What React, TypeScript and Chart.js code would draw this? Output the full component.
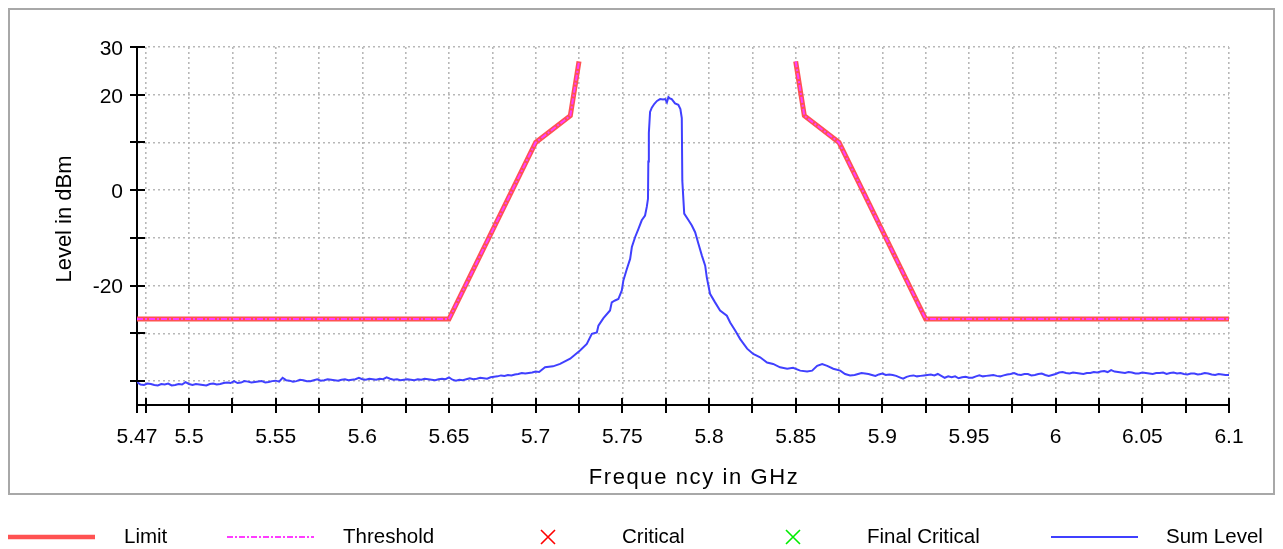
import { useEffect, useRef } from 'react';
import { Chart, registerables } from 'chart.js';

Chart.register(...registerables);

const FONT = "'Liberation Sans', Arial, Helvetica, sans-serif";

// Limit / threshold mask (GHz, dBm); null = gap in the mask
const limitFreq = [5.47, 5.65, 5.7, 5.72, 5.725, 5.7875, 5.85, 5.855, 5.875, 5.925, 6.1];
const limitLevel: (number | null)[] = [-27, -27, 10, 15.6, 27, null, 27, 15.6, 10, -27, -27];
const thresholdLevel: (number | null)[] = [-27, -27, 10, 15.6, 27, null, 27, 15.6, 10, -27, -27];

// Sum level trace: [frequency GHz, level dBm]
const sumTrace: [number, number][] = [
  [5.470, -40.2], [5.472, -40.7], [5.474, -40.8], [5.476, -40.5], [5.478, -40.6], [5.480, -40.8],
  [5.482, -40.9], [5.484, -40.6], [5.486, -40.7], [5.488, -40.5], [5.490, -40.9], [5.492, -40.8],
  [5.494, -40.6], [5.496, -40.7], [5.498, -40.2], [5.500, -40.6], [5.502, -40.8], [5.504, -40.6],
  [5.506, -40.7], [5.508, -40.8], [5.510, -40.9], [5.512, -40.6], [5.514, -40.5], [5.516, -40.7],
  [5.518, -40.6], [5.520, -40.4], [5.522, -40.3], [5.524, -40.4], [5.526, -40.0], [5.528, -40.4],
  [5.530, -40.3], [5.532, -40.0], [5.534, -40.1], [5.536, -40.3], [5.538, -40.2], [5.540, -40.1],
  [5.542, -40.0], [5.544, -40.3], [5.546, -40.2], [5.548, -40.0], [5.550, -39.9], [5.552, -40.1],
  [5.554, -39.3], [5.556, -39.8], [5.558, -39.9], [5.560, -40.1], [5.562, -40.0], [5.564, -39.7],
  [5.566, -39.8], [5.568, -40.0], [5.570, -40.0], [5.572, -39.8], [5.574, -39.6], [5.576, -39.9],
  [5.578, -39.8], [5.580, -39.6], [5.582, -39.7], [5.584, -39.8], [5.586, -39.9], [5.588, -39.7],
  [5.590, -39.6], [5.592, -39.8], [5.594, -39.7], [5.596, -39.6], [5.598, -39.3], [5.600, -39.6],
  [5.602, -39.7], [5.604, -39.5], [5.606, -39.6], [5.608, -39.7], [5.610, -39.5], [5.612, -39.6],
  [5.614, -39.2], [5.616, -39.5], [5.618, -39.7], [5.620, -39.6], [5.622, -39.8], [5.624, -39.7],
  [5.626, -39.6], [5.628, -39.7], [5.630, -39.8], [5.632, -39.6], [5.634, -39.7], [5.636, -39.5],
  [5.638, -39.6], [5.640, -39.7], [5.642, -39.8], [5.644, -39.6], [5.646, -39.5], [5.648, -39.6],
  [5.650, -39.2], [5.652, -39.7], [5.654, -39.9], [5.656, -39.7], [5.658, -39.8], [5.660, -39.6],
  [5.662, -39.4], [5.664, -39.6], [5.666, -39.5], [5.668, -39.3], [5.670, -39.4], [5.672, -39.5],
  [5.674, -39.2], [5.676, -39.1], [5.678, -39.0], [5.680, -38.8], [5.682, -38.9], [5.684, -38.7],
  [5.686, -38.8], [5.688, -38.6], [5.690, -38.5], [5.692, -38.3], [5.694, -38.4], [5.696, -38.3],
  [5.698, -38.2], [5.700, -38.0], [5.702, -38.1],
  [5.7054, -37.1], [5.710, -36.9], [5.7141, -36.4], [5.7199, -35.3], [5.7256, -33.6], [5.7295, -32.2],
  [5.7324, -30.1], [5.7353, -29.8], [5.7362, -28.4], [5.7391, -26.8], [5.7429, -25.2], [5.7439, -23.5],
  [5.7458, -23.1], [5.7477, -22.8], [5.7497, -21.0], [5.7506, -18.9], [5.7526, -16.5], [5.7545, -14.4],
  [5.7555, -11.9], [5.7574, -9.8], [5.7593, -8.1], [5.7612, -6.3], [5.7631, -5.3], [5.7641, -3.5],
  [5.7648, -1.8], [5.7650, 6.0], [5.7653, 12.0], [5.7660, 16.4], [5.7670, 17.3], [5.7685, 18.1],
  [5.7700, 18.7], [5.7718, 19.1], [5.7735, 19.0], [5.7747, 19.1], [5.7757, 18.4], [5.7766, 19.5],
  [5.7775, 19.2], [5.7785, 19.1], [5.7804, 18.2], [5.7823, 17.9], [5.7835, 17.0], [5.7843, 15.1],
  [5.7846, 2.0], [5.7857, -4.9], [5.7882, -6.3], [5.7901, -7.4], [5.7920, -8.8], [5.7939, -11.2],
  [5.7959, -13.7], [5.7978, -15.8], [5.7987, -18.2], [5.8006, -21.7], [5.8035, -23.5], [5.8064, -25.2],
  [5.8103, -26.3], [5.8122, -27.7], [5.8151, -29.4], [5.8180, -31.2], [5.8220, -33.2], [5.8255, -34.3],
  [5.8295, -35.0], [5.8335, -36.1], [5.8370, -36.4], [5.8410, -37.1], [5.8451, -37.4], [5.8485, -37.2],
  [5.8526, -37.8], [5.8566, -38.0], [5.8595, -37.8], [5.8624, -36.8], [5.8653, -36.4], [5.8682, -36.8],
  [5.8717, -37.4], [5.8757, -37.8], [5.8785, -38.5], [5.8814, -38.8],
  [5.884, -38.7], [5.886, -38.5], [5.888, -38.3], [5.890, -38.4], [5.892, -38.5], [5.894, -38.7],
  [5.896, -38.9], [5.898, -38.6], [5.900, -38.4], [5.902, -38.7], [5.904, -38.6], [5.906, -38.7],
  [5.908, -38.9], [5.910, -39.2], [5.912, -39.5], [5.914, -39.1], [5.916, -38.9], [5.918, -38.8],
  [5.920, -39.0], [5.922, -38.9], [5.924, -38.8], [5.926, -38.7], [5.928, -38.6], [5.930, -38.8],
  [5.932, -38.5], [5.934, -38.9], [5.936, -39.3], [5.938, -39.0], [5.940, -39.2], [5.942, -39.0],
  [5.944, -39.4], [5.946, -39.2], [5.948, -39.1], [5.950, -39.3], [5.952, -39.3], [5.954, -39.0],
  [5.956, -38.8], [5.958, -39.0], [5.960, -38.9], [5.962, -38.8], [5.964, -38.7], [5.966, -38.9],
  [5.968, -39.0], [5.970, -38.8], [5.972, -38.6], [5.974, -38.5], [5.976, -38.3], [5.978, -38.6],
  [5.980, -38.7], [5.982, -38.5], [5.984, -38.5], [5.986, -38.8], [5.988, -38.7], [5.990, -38.5],
  [5.992, -38.4], [5.994, -38.7], [5.996, -38.9], [5.998, -38.7], [6.000, -38.5], [6.002, -38.2],
  [6.004, -38.1], [6.006, -38.3], [6.008, -38.4], [6.010, -38.2], [6.012, -38.3], [6.014, -38.4],
  [6.016, -38.5], [6.018, -38.3], [6.020, -38.3], [6.022, -38.1], [6.024, -38.2], [6.026, -38.0],
  [6.028, -37.9], [6.030, -38.1], [6.032, -37.7], [6.034, -38.0], [6.036, -38.1], [6.038, -38.2],
  [6.040, -38.3], [6.042, -38.1], [6.044, -38.2], [6.046, -38.4], [6.048, -38.4], [6.050, -38.2],
  [6.052, -38.3], [6.054, -38.4], [6.056, -38.5], [6.058, -38.3], [6.060, -38.3], [6.062, -38.2],
  [6.064, -38.5], [6.066, -38.3], [6.068, -38.2], [6.070, -38.4], [6.072, -38.3], [6.074, -38.5],
  [6.076, -38.6], [6.078, -38.4], [6.080, -38.4], [6.082, -38.6], [6.084, -38.5], [6.086, -38.3],
  [6.088, -38.4], [6.090, -38.6], [6.092, -38.7], [6.094, -38.5], [6.096, -38.6], [6.098, -38.7],
  [6.100, -38.7],
];

// Axis ticks and labels
const xTickValues = [
  5.47, 5.475, 5.5, 5.525, 5.55, 5.575, 5.6, 5.625, 5.65, 5.675, 5.7, 5.725, 5.75, 5.775,
  5.8, 5.825, 5.85, 5.875, 5.9, 5.925, 5.95, 5.975, 6.0, 6.025, 6.05, 6.075, 6.1,
];
const xLabelValues = [5.47, 5.5, 5.55, 5.6, 5.65, 5.7, 5.75, 5.8, 5.85, 5.9, 5.95, 6.0, 6.05, 6.1];
const yTickValues = [-40, -30, -20, -10, 0, 10, 20, 30];
const yLabelValues = [-20, 0, 20, 30];

const seriesNames = ['Limit', 'Threshold', 'Critical', 'Final Critical', 'Sum Level'];
const xTitle = 'Freque ncy in GHz';
const yTitle = 'Level in dBm';

const COLORS = {
  limit: '#ff5252',
  threshold: '#ff3cff',
  critical: '#ff0000',
  finalCritical: '#00ee00',
  sum: '#4040ff',
};

const inList = (list: number[], v: number) => list.some((u) => Math.abs(u - v) < 1e-9);

const framePlugin = {
  id: 'frame',
  afterDraw(chart: any) {
    const ctx: CanvasRenderingContext2D = chart.ctx;
    const { left, bottom } = chart.chartArea;
    const xs = chart.scales.x;
    const ys = chart.scales.y;
    ctx.save();
    // outer frame
    ctx.strokeStyle = '#a8a8a8';
    ctx.lineWidth = 2;
    ctx.strokeRect(9, 9, 1265, 485);

    // tick marks crossing the axes
    ctx.strokeStyle = '#000';
    ctx.lineWidth = 2;
    ctx.beginPath();
    xs.ticks.forEach((t: any) => {
      const px = Math.round(xs.getPixelForValue(t.value));
      ctx.moveTo(px, bottom - 7);
      ctx.lineTo(px, bottom + 8);
    });
    ys.ticks.forEach((t: any) => {
      const py = Math.round(ys.getPixelForValue(t.value));
      ctx.moveTo(left - 7, py);
      ctx.lineTo(left + 8, py);
    });
    ctx.stroke();

    // axis titles
    ctx.fillStyle = '#000';
    ctx.textAlign = 'center';
    ctx.textBaseline = 'middle';
    ctx.font = `22px ${FONT}`;
    const anyCtx = ctx as any;
    if ('letterSpacing' in anyCtx) anyCtx.letterSpacing = '1.6px';
    ctx.fillText(xTitle, 694, 478);
    if ('letterSpacing' in anyCtx) anyCtx.letterSpacing = '0px';
    ctx.save();
    ctx.translate(65, 219);
    ctx.rotate(-Math.PI / 2);
    ctx.fillText(yTitle, 0, 0);
    ctx.restore();

    // legend
    const ly = 537;
    ctx.lineWidth = 4.5;
    ctx.strokeStyle = COLORS.limit;
    ctx.beginPath();
    ctx.moveTo(8, ly);
    ctx.lineTo(95, ly);
    ctx.stroke();

    ctx.lineWidth = 2;
    ctx.strokeStyle = COLORS.threshold;
    ctx.setLineDash([6, 2, 2, 2]);
    ctx.beginPath();
    ctx.moveTo(227, ly);
    ctx.lineTo(314, ly);
    ctx.stroke();
    ctx.setLineDash([]);

    const cross = (cx: number, color: string) => {
      ctx.strokeStyle = color;
      ctx.lineWidth = 1.6;
      ctx.beginPath();
      ctx.moveTo(cx - 7, ly - 7);
      ctx.lineTo(cx + 7, ly + 7);
      ctx.moveTo(cx + 7, ly - 7);
      ctx.lineTo(cx - 7, ly + 7);
      ctx.stroke();
    };
    cross(548, COLORS.critical);
    cross(793, COLORS.finalCritical);

    ctx.lineWidth = 2;
    ctx.strokeStyle = COLORS.sum;
    ctx.beginPath();
    ctx.moveTo(1051, ly);
    ctx.lineTo(1138, ly);
    ctx.stroke();

    ctx.font = `20.5px ${FONT}`;
    ctx.textAlign = 'left';
    ctx.fillStyle = '#000';
    const textX = [124, 343, 622, 867, 1166];
    seriesNames.forEach((n, i) => ctx.fillText(n, textX[i], ly));
    ctx.restore();
  },
};

export default function App() {
  const ref = useRef<HTMLCanvasElement | null>(null);
  useEffect(() => {
    if (!ref.current) return;
    const limitData = limitFreq.map((f, i) => ({ x: f, y: limitLevel[i] }));
    const thresholdData = limitFreq.map((f, i) => ({ x: f, y: thresholdLevel[i] }));
    const sumData = sumTrace.map(([f, v]) => ({ x: f, y: v }));
    const chart = new Chart(ref.current, {
      type: 'line',
      data: {
        datasets: [
          {
            label: seriesNames[1],
            data: thresholdData as any,
            borderColor: COLORS.threshold,
            borderWidth: 2,
            borderDash: [6, 2, 2, 2],
            pointRadius: 0,
            spanGaps: false,
            tension: 0,
          },
          {
            label: seriesNames[0],
            data: limitData as any,
            borderColor: COLORS.limit,
            borderWidth: 5,
            pointRadius: 0,
            spanGaps: false,
            tension: 0,
          },
          {
            label: seriesNames[4],
            data: sumData,
            borderColor: COLORS.sum,
            borderWidth: 2,
            pointRadius: 0,
            tension: 0,
          },
          { label: seriesNames[2], data: [], borderColor: COLORS.critical, showLine: false },
          { label: seriesNames[3], data: [], borderColor: COLORS.finalCritical, showLine: false },
        ],
      },
      options: {
        animation: false,
        responsive: false,
        events: [],
        layout: { padding: { left: 0, right: 54, top: 47, bottom: 0 } },
        plugins: { legend: { display: false }, tooltip: { enabled: false } },
        scales: {
          x: {
            type: 'linear',
            min: 5.47,
            max: 6.1,
            afterBuildTicks: (scale: any) => {
              scale.ticks = xTickValues.map((v) => ({ value: v }));
            },
            afterFit: (scale: any) => {
              scale.height = 144;
            },
            ticks: {
              autoSkip: false,
              maxRotation: 0,
              minRotation: 0,
              padding: 20,
              color: '#000',
              font: { family: FONT, size: 21 },
              callback: (v: any) => (inList(xLabelValues, Number(v)) ? String(Number(v)) : ''),
            },
            grid: { color: '#b8b8b8', lineWidth: 1.6, drawTicks: false },
            border: { display: true, color: '#000', width: 2, dash: [2, 3] },
          },
          y: {
            type: 'linear',
            min: -45,
            max: 30,
            afterBuildTicks: (scale: any) => {
              scale.ticks = yTickValues.map((v) => ({ value: v }));
            },
            afterFit: (scale: any) => {
              scale.width = 137;
            },
            ticks: {
              autoSkip: false,
              padding: 14,
              labelOffset: 2,
              color: '#000',
              font: { family: FONT, size: 21 },
              callback: (v: any) => (inList(yLabelValues, Number(v)) ? String(Number(v)) : ''),
            },
            grid: { color: '#b8b8b8', lineWidth: 1.6, drawTicks: false },
            border: { display: true, color: '#000', width: 2, dash: [2, 3] },
          },
        },
      },
      plugins: [framePlugin],
    });
    return () => chart.destroy();
  }, []);

  return (
    <div style={{ position: 'fixed', left: 0, top: 0, width: 1283, height: 549, background: '#fff' }}>
      <canvas ref={ref} width={1283} height={549} style={{ display: 'block', width: 1283, height: 549 }} />
    </div>
  );
}
